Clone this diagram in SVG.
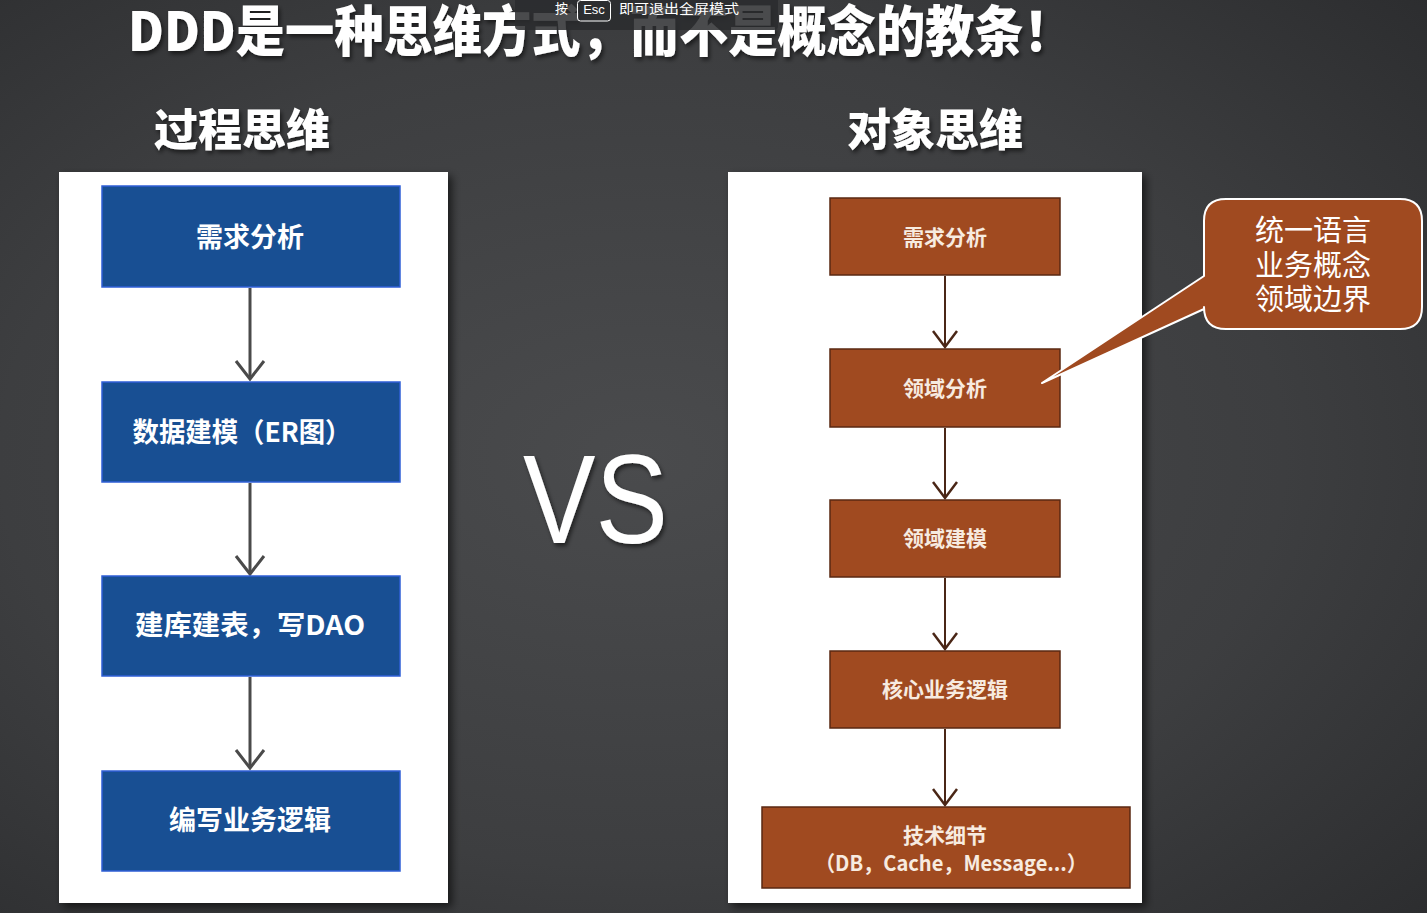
<svg xmlns="http://www.w3.org/2000/svg" width="1427" height="913" viewBox="0 0 1427 913">
<defs>
  <radialGradient id="bg" cx="0.45" cy="0.5" r="0.75">
    <stop offset="0" stop-color="#4a4b4d"/>
    <stop offset="0.6" stop-color="#3d3e40"/>
    <stop offset="1" stop-color="#2c2d2f"/>
  </radialGradient>
  <filter id="ts" x="-10%" y="-20%" width="130%" height="160%">
    <feDropShadow dx="2" dy="3" stdDeviation="2" flood-color="#000" flood-opacity="0.55"/>
  </filter>
  <filter id="ps" x="-5%" y="-5%" width="115%" height="110%">
    <feDropShadow dx="4" dy="4" stdDeviation="4" flood-color="#000" flood-opacity="0.6"/>
  </filter>
  <style>
    .cjk{font-family:"Noto Sans CJK SC","Noto Sans",sans-serif;}
    .title{font-size:46px;font-weight:900;fill:#ffffff;}
    .head{font-size:44px;font-weight:900;fill:#ffffff;text-anchor:middle;}
    .panel{fill:#ffffff;}
    .blue{fill:#184f93;stroke:#2f5fd6;stroke-width:1.5;}
    .btxt{font-size:27px;font-weight:600;fill:#ffffff;text-anchor:middle;}
    .brown{fill:#a04a20;stroke:#5a2812;stroke-width:1.5;}
    .rtxt{font-size:21px;font-weight:600;fill:#f7ebe0;text-anchor:middle;}
    .cline{stroke:#4a4a4a;stroke-width:3;fill:none;}
    .rline{stroke:#4a2616;stroke-width:2;fill:none;}
    .rhead{stroke:#4a2616;stroke-width:2.5;fill:none;}
    .ctxt{font-size:29px;fill:#ffffff;text-anchor:middle;}
    .ov{font-size:13px;fill:#ffffff;}
  </style>
</defs>
<rect x="0" y="0" width="1427" height="913" fill="url(#bg)"/>

<!-- title -->
<g id="title" filter="url(#ts)">
  <text x="128" y="0" class="cjk title" transform="translate(0,51) scale(1,1.18)" textLength="945" lengthAdjust="spacingAndGlyphs">DDD是一种思维方式，而不是概念的教条！</text>
</g>

<!-- fullscreen overlay -->
<g id="overlay">
  <path d="M515,0 H778 V26 Q778,30 774,30 H519 Q515,30 515,26 Z" fill="#2a2b2e" fill-opacity="0.85"/>
  <text x="555" y="13" class="cjk ov">按</text>
  <rect x="577.5" y="0.5" width="33" height="20.5" rx="3" fill="none" stroke="#ffffff" stroke-width="1"/>
  <text x="594" y="14" font-family="Liberation Sans, sans-serif" text-anchor="middle" class="ov">Esc</text>
  <text x="619" y="13" class="cjk ov" textLength="120" lengthAdjust="spacingAndGlyphs">即可退出全屏模式</text>
</g>

<!-- headings -->
<g id="head-left" filter="url(#ts)"><text x="242" y="146" class="cjk head">过程思维</text></g>
<g id="head-right" filter="url(#ts)"><text x="935" y="146" class="cjk head">对象思维</text></g>

<!-- VS -->
<g id="vs" filter="url(#ts)">
  <text x="523" y="543" font-family="Liberation Sans, sans-serif" font-size="126" fill="#ffffff" textLength="145" lengthAdjust="spacingAndGlyphs">VS</text>
</g>

<!-- panels -->
<g id="panel-left"><rect x="59" y="172" width="389" height="731" class="panel" filter="url(#ps)"/></g>
<g id="panel-right"><rect x="728" y="172" width="414" height="731" class="panel" filter="url(#ps)"/></g>

<!-- connectors -->
<g id="connectors">
  <path class="cline" d="M250,288 V378"/>
  <path class="cline" d="M236,361 L250,379 L264,361"/>
  <path class="cline" d="M250,483 V573"/>
  <path class="cline" d="M236,556 L250,574 L264,556"/>
  <path class="cline" d="M250,677 V767"/>
  <path class="cline" d="M236,750 L250,768 L264,750"/>

  <path class="rline" d="M945,276 V347"/>
  <path class="rhead" d="M933,331 L945,347 L957,331"/>
  <path class="rline" d="M945,428 V498"/>
  <path class="rhead" d="M933,482 L945,498 L957,482"/>
  <path class="rline" d="M945,578 V649"/>
  <path class="rhead" d="M933,633 L945,649 L957,633"/>
  <path class="rline" d="M945,729 V805" stroke="#2a2a2a"/>
  <path class="rhead" d="M933,789 L945,805 L957,789" stroke="#3a3a3a"/>
</g>

<!-- left nodes -->
<g id="l1"><rect x="102" y="186" width="298" height="101" class="blue"/><text x="250" y="247" class="cjk btxt">需求分析</text></g>
<g id="l2"><rect x="102" y="382" width="298" height="100" class="blue"/><text x="242" y="442" class="cjk btxt" textLength="219" lengthAdjust="spacingAndGlyphs">数据建模（ER图）</text></g>
<g id="l3"><rect x="102" y="576" width="298" height="100" class="blue"/><text x="250" y="635" class="cjk btxt" textLength="230" lengthAdjust="spacingAndGlyphs">建库建表，写DAO</text></g>
<g id="l4"><rect x="102" y="771" width="298" height="100" class="blue"/><text x="250" y="830" class="cjk btxt">编写业务逻辑</text></g>

<!-- right nodes -->
<g id="r1"><rect x="830" y="198" width="230" height="77" class="brown"/><text x="945" y="245" class="cjk rtxt">需求分析</text></g>
<g id="r2"><rect x="830" y="349" width="230" height="78" class="brown"/><text x="945" y="396" class="cjk rtxt">领域分析</text></g>
<g id="r3"><rect x="830" y="500" width="230" height="77" class="brown"/><text x="945" y="546" class="cjk rtxt">领域建模</text></g>
<g id="r4"><rect x="830" y="651" width="230" height="77" class="brown"/><text x="945" y="697" class="cjk rtxt">核心业务逻辑</text></g>
<g id="r5"><rect x="762" y="807" width="368" height="81" class="brown"/>
  <text x="945" y="843" class="cjk rtxt">技术细节</text>
  <text x="951" y="871" class="cjk rtxt" textLength="272" lengthAdjust="spacingAndGlyphs">（DB，Cache，Message...）</text>
</g>

<!-- callout -->
<g id="callout">
  <path d="M1226,199 H1400 Q1422,199 1422,221 V307 Q1422,329 1400,329 H1226 Q1204,329 1204,307 V309 L1042,383 L1204,276 V221 Q1204,199 1226,199 Z" fill="#a04a20" stroke="#ffffff" stroke-width="2" stroke-linejoin="round"/>
  <text x="1313" y="241" class="cjk ctxt">统一语言</text>
  <text x="1313" y="276" class="cjk ctxt">业务概念</text>
  <text x="1313" y="310" class="cjk ctxt">领域边界</text>
</g>
</svg>
